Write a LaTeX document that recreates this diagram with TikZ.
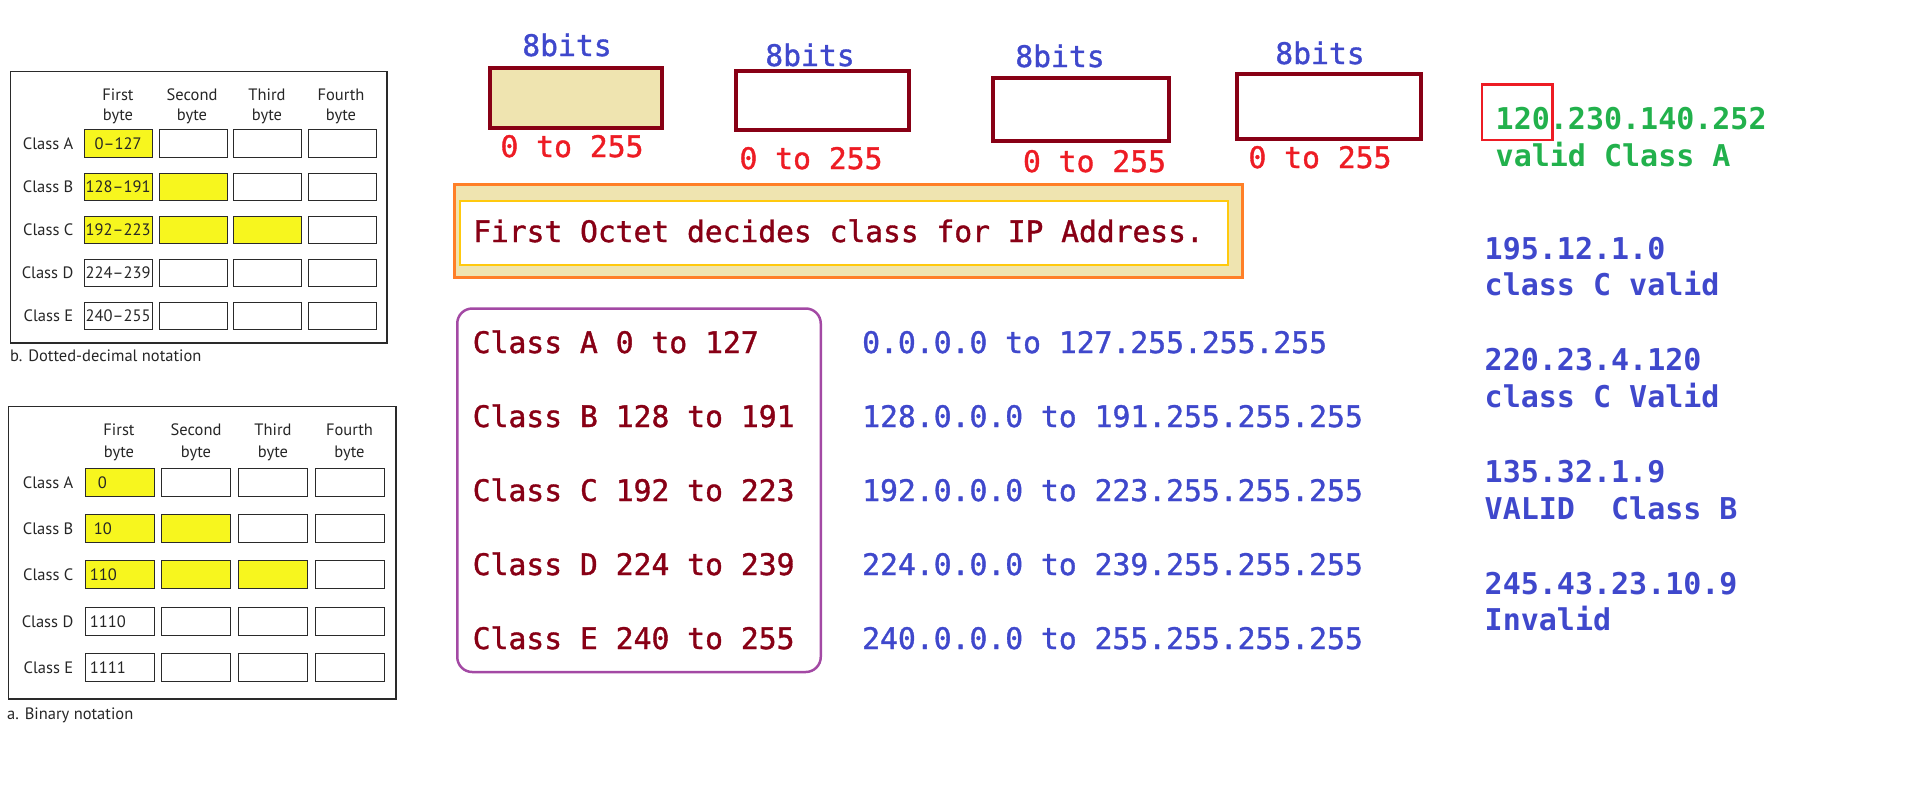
\documentclass[tikz,border=0pt]{standalone}
\usepackage{fontspec}
\setmainfont{PT Sans}
\newfontfamily\codefont[FakeBold=1.2]{DejaVu Sans Mono}
\newfontfamily\codebfont{DejaVu Sans Mono Bold}
\usetikzlibrary{calc}
\definecolor{dred}{HTML}{880015}
\definecolor{tanfill}{HTML}{EFE4B0}
\definecolor{iblue}{HTML}{3F48CC}
\definecolor{bred}{HTML}{ED1C24}
\definecolor{igreen}{HTML}{22B14C}
\definecolor{iorange}{HTML}{FF7F27}
\definecolor{igold}{HTML}{FFC90E}
\definecolor{ipurple}{HTML}{A349A4}
\definecolor{cyellow}{RGB}{247,246,30}
\definecolor{tline}{HTML}{2A2A2A}
\begin{document}
\begin{tikzpicture}[x=1pt,y=-1pt,
  lbl/.style={font=\fontsize{16.5}{20}\selectfont, inner sep=0pt, text=black!85},
  cell/.style={draw=tline, line width=1.2pt, inner sep=0pt, anchor=north west},
  frame/.style={draw=tline, line width=1.5pt, inner sep=0pt, anchor=north west},
  code/.style={font=\codefont\fontsize{29.7}{36}\selectfont, inner sep=0pt, anchor=base west},
  codeb/.style={font=\codebfont\fontsize{30}{36}\selectfont, inner sep=0pt, anchor=base west},
  bytebox/.style={draw=dred, line width=4pt, inner sep=0pt},
]
\useasboundingbox (0,0) rectangle (1914,806);

% ---------- table b: dotted-decimal ----------
\node[frame, minimum width=376.5pt, minimum height=271.5pt] (fb) at (9.75,70.75) {};
\foreach \cx/\ha/\hb [count=\ci] in {118/First/byte,192/Second/byte,267/Third/byte,341/Fourth/byte}{
  \node[lbl, anchor=base] (bh\ci a) at (\cx,100) {\ha};
  \node[lbl, anchor=base] (bh\ci b) at (\cx,120.5) {\hb};
}
\foreach \ry/\ny/\cl/\tx [count=\ri] in {129/1/A/0–127,172.5/2/B/128–191,215.5/3/C/192–223,258.5/0/D/224–239,301.5/0/E/240–255}{
  \foreach \cx [count=\ci] in {83.5,158.5,232.5,307.5}{
    \ifnum\ci>\ny\relax\def\fc{white}\else\def\fc{cyellow}\fi
    \node[cell, fill=\fc, minimum width=68pt, minimum height=27.5pt] (b\ri\ci) at (\cx,\ry) {};
  }
  \node[lbl, anchor=base east] (bl\ri) at ($(b\ri1.west)+(-10,6)$) {Class \cl};
  \node[lbl, anchor=base] (bv\ri) at ($(b\ri1.center)+(0,6)$) {\tx};
}
\node[lbl, anchor=base west] (capb) at (10,361) {b. Dotted-decimal notation};

% ---------- table a: binary ----------
\node[frame, minimum width=387.5pt, minimum height=292.5pt] (fa) at (7.75,405.75) {};
\foreach \cx/\ha/\hb [count=\ci] in {119/First/byte,196/Second/byte,273/Third/byte,349.5/Fourth/byte}{
  \node[lbl, anchor=base] (ah\ci a) at (\cx,435) {\ha};
  \node[lbl, anchor=base] (ah\ci b) at (\cx,457.5) {\hb};
}
\foreach \ry/\ny/\cl/\tx/\bx [count=\ri] in {467.5/1/A/0/97,513.5/2/B/10/93,559.5/3/C/110/89,606.5/0/D/1110/89,652.5/0/E/1111/89}{
  \foreach \cx [count=\ci] in {84.5,160.5,237.5,314.5}{
    \ifnum\ci>\ny\relax\def\fc{white}\else\def\fc{cyellow}\fi
    \node[cell, fill=\fc, minimum width=69pt, minimum height=28.5pt] (a\ri\ci) at (\cx,\ry) {};
  }
  \node[lbl, anchor=base east] (al\ri) at ($(a\ri1.west)+(-11,6)$) {Class \cl};
  \node[lbl, anchor=base west] (av\ri) at ($(a\ri1.center)+(\bx-119,6)$) {\tx};
}
\node[lbl, anchor=base west] (capa) at (7,719) {a. Binary notation};

% ---------- four octet boxes ----------
\node[bytebox, fill=tanfill, minimum width=172pt, minimum height=60pt] (o1) at (575.5,98) {};
\node[bytebox, fill=white, minimum width=173pt, minimum height=59pt] (o2) at (822,100.5) {};
\node[bytebox, fill=white, minimum width=176pt, minimum height=63pt] (o3) at (1081,109.5) {};
\node[bytebox, fill=white, minimum width=184pt, minimum height=65pt] (o4) at (1328.5,106.5) {};
\foreach \x/\y [count=\i] in {567/56,810/66,1060/67,1320/64}{
  \node[code, anchor=base, text=iblue] (e\i) at (\x,\y) {8bits};
}
\foreach \x/\y [count=\i] in {572/157,811/169,1094.5/172,1320/168}{
  \node[code, anchor=base, text=bred] (r\i) at (\x,\y) {0 to 255};
}

% ---------- first octet note ----------
\node[draw=iorange, fill=tanfill, line width=3pt, inner sep=0pt, anchor=north west,
      minimum width=788pt, minimum height=93pt] (ob) at (452.5,182.5) {};
\node[draw=igold, fill=white, line width=2.7pt, inner sep=0pt, anchor=north west,
      minimum width=768pt, minimum height=64pt] (ib) at (458.5,199.5) {};
\node[code, text=dred, font=\codefont\fontsize{29.6}{36}\selectfont] (oct) at (473,242) {First Octet decides class for IP Address.};

% ---------- class list ----------
\node[draw=ipurple, line width=2.5pt, rounded corners=15pt, inner sep=0pt, anchor=north west,
      minimum width=363.5pt, minimum height=363.5pt] (pb) at (456,307.25) {};
\foreach \y/\c/\rg [count=\i] in {353/Class A 0 to 127/0.0.0.0 to 127.255.255.255,
  427/Class B 128 to 191/128.0.0.0 to 191.255.255.255,
  501/Class C 192 to 223/192.0.0.0 to 223.255.255.255,
  575/Class D 224 to 239/224.0.0.0 to 239.255.255.255,
  649/Class E 240 to 255/240.0.0.0 to 255.255.255.255}{
  \node[code, text=dred] (c\i) at (472.5,\y) {\c};
  \node[code, text=iblue] (g\i) at (862,\y) {\rg};
}

% ---------- examples ----------
\node[draw=bred, line width=2.5pt, inner sep=0pt, anchor=north west,
      minimum width=70.5pt, minimum height=55.5pt] (rb) at (1480.75,83.25) {};
\node[codeb, text=igreen] (x1) at (1495.5,129) {120.230.140.252};
\node[codeb, text=igreen] (x2) at (1495.5,166) {valid Class A};
\node[codeb, text=iblue] (y1) at (1484.5,259.5) {195.12.1.0};
\node[codeb, text=iblue] (y2) at (1484.5,295.5) {class C valid};
\node[codeb, text=iblue] (y3) at (1484.5,370.5) {220.23.4.120};
\node[codeb, text=iblue] (y4) at (1484.5,407.5) {class C Valid};
\node[codeb, text=iblue] (y5) at (1484.5,482.5) {135.32.1.9};
\node[codeb, text=iblue] (y6) at (1484.5,519.5) {VALID\ \ Class B};
\node[codeb, text=iblue] (y7) at (1484.5,594.5) {245.43.23.10.9};
\node[codeb, text=iblue] (y8) at (1484.5,630.5) {Invalid};
\end{tikzpicture}
\end{document}
